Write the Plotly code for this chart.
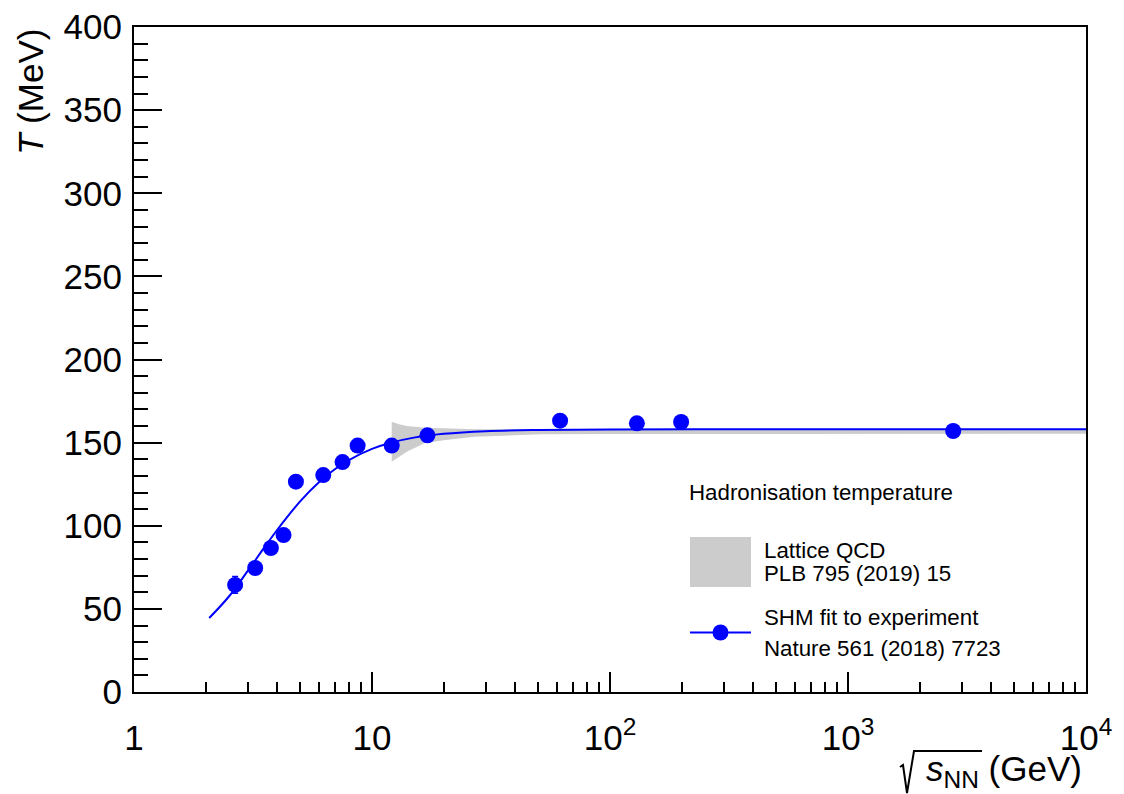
import plotly.graph_objects as go

# --- data ---
sqrt_s = [2.66, 3.23, 3.76, 4.25, 4.79, 6.24, 7.52, 8.7, 12.1, 17.1, 61.7, 129.7, 199.0, 2767.0]
temperature = [64.4, 74.6, 86.6, 94.4, 126.5, 130.5, 138.3, 148.2, 148.2, 154.4, 163.2, 161.6, 162.4, 157.0]
temperature_err = [5.0, 2.0, 2.0, 2.0, 2.0, 2.0, 2.0, 2.0, 2.0, 2.0, 3.0, 3.0, 3.0, 2.0]

fit_sqrt_s = [2.07, 2.5, 3.0, 3.5, 4.0, 5.0, 6.0, 7.0, 8.0, 10.0, 12.0, 15.0, 20.0, 30.0, 50.0, 100.0, 300.0, 1000.0, 10000.0]
fit_T = [44.5, 57.3, 72.7, 86.2, 97.6, 114.8, 126.3, 134.1, 139.5, 146.2, 149.9, 153.0, 155.3, 156.9, 157.6, 157.9, 158.0, 158.0, 158.0]

lqcd_sqrt_s = [12.1, 13.0, 14.0, 16.6, 20.0, 27.0, 51.0, 100.0, 1000.0, 10000.0]
lqcd_upper = [162.6, 161.0, 160.0, 159.0, 158.6, 158.0, 158.0, 158.0, 158.0, 158.0]
lqcd_lower = [138.5, 141.5, 144.5, 149.6, 151.5, 153.6, 155.0, 155.2, 155.3, 155.3]

x_tickvals = [1, 10, 100, 1000, 10000]
x_ticktext = ["1", "10", "10<sup>2</sup>", "10<sup>3</sup>", "10<sup>4</sup>"]
x_minor_vals = [m * d for d in (1, 10, 100, 1000) for m in range(2, 10)]

BLUE = "rgb(0,0,255)"
GRAY = "rgb(204,204,204)"
FONT = "Liberation Sans, Arial, Helvetica, sans-serif"

# plot-area geometry (pixels) used for the hand-drawn legend and title decorations
L, R, T_, B = 134, 1086, 27, 692
W, H = R - L, B - T_


def px(xp):
    return (xp - L) / W


def py(yp):
    return (B - yp) / H


fig = go.Figure()

# Lattice QCD band
fig.add_trace(go.Scatter(x=lqcd_sqrt_s, y=lqcd_upper, mode="lines", line=dict(width=0, color=GRAY),
                         showlegend=False, hoverinfo="skip"))
fig.add_trace(go.Scatter(x=lqcd_sqrt_s, y=lqcd_lower, mode="lines", line=dict(width=0, color=GRAY),
                         fill="tonexty", fillcolor=GRAY, showlegend=False, hoverinfo="skip"))

# SHM fit curve
fig.add_trace(go.Scatter(x=fit_sqrt_s, y=fit_T, mode="lines", line=dict(color=BLUE, width=2, shape="spline"),
                         showlegend=False))

# data points
fig.add_trace(go.Scatter(x=sqrt_s, y=temperature, mode="markers",
                         marker=dict(color=BLUE, size=16),
                         error_y=dict(type="data", array=temperature_err, color=BLUE, thickness=1.5, width=3),
                         showlegend=False))

fig.update_xaxes(type="log", range=[0, 4], showline=True, linecolor="black", linewidth=2, mirror=True,
                 ticks="inside", ticklen=20, tickwidth=2, tickcolor="black",
                 tickvals=x_tickvals, ticktext=x_ticktext,
                 tickfont=dict(family=FONT, size=35, color="black"),
                 minor=dict(ticks="inside", ticklen=10, tickwidth=2, tickcolor="black",
                            tickvals=x_minor_vals, showgrid=False),
                 showgrid=False, zeroline=False, ticklabelstandoff=14, automargin=False)
fig.update_yaxes(range=[0, 400], showline=True, linecolor="black", linewidth=2, mirror=True,
                 ticks="inside", ticklen=28, tickwidth=2, tickcolor="black", dtick=50, tick0=0,
                 tickfont=dict(family=FONT, size=35, color="black"),
                 minor=dict(ticks="inside", ticklen=14, tickwidth=2, tickcolor="black", dtick=10, showgrid=False),
                 showgrid=False, zeroline=False, ticklabelstandoff=3, automargin=False)

legend_font = dict(family=FONT, size=22.3, color="black")
annotations = [
    dict(text="<i>T</i> (MeV)", xref="paper", yref="paper", x=px(30), y=1.0, xanchor="center", yanchor="top",
         textangle=-90, showarrow=False, font=dict(family=FONT, size=35, color="black")),
    dict(text="<i>s</i><sub>NN</sub> (GeV)", xref="paper", yref="paper",
         x=px(1084), y=py(771), xanchor="right", yanchor="middle",
         showarrow=False, font=dict(family=FONT, size=35, color="black")),
    dict(text="Hadronisation temperature", xref="paper", yref="paper", x=px(687), y=py(492),
         xanchor="left", yanchor="middle", showarrow=False, font=legend_font),
    dict(text="Lattice QCD", xref="paper", yref="paper", x=px(762), y=py(550),
         xanchor="left", yanchor="middle", showarrow=False, font=legend_font),
    dict(text="PLB 795 (2019) 15", xref="paper", yref="paper", x=px(762), y=py(573.5),
         xanchor="left", yanchor="middle", showarrow=False, font=legend_font),
    dict(text="SHM fit to experiment", xref="paper", yref="paper", x=px(762), y=py(617),
         xanchor="left", yanchor="middle", showarrow=False, font=legend_font),
    dict(text="Nature 561 (2018) 7723", xref="paper", yref="paper", x=px(762), y=py(648),
         xanchor="left", yanchor="middle", showarrow=False, font=legend_font),
]

# radical sign for sqrt(s_NN)
rad = [(900, 767), (903, 765), (907, 793), (914, 751), (982, 751)]
rad_path = "M " + " L ".join(f"{px(a):.5f},{py(b):.5f}" for a, b in rad)

shapes = [
    dict(type="rect", xref="paper", yref="paper", x0=px(690), x1=px(751),
         y0=py(587), y1=py(537), fillcolor=GRAY, line=dict(width=0)),
    dict(type="line", xref="paper", yref="paper", x0=px(690), x1=px(751),
         y0=py(632.5), y1=py(632.5), line=dict(color=BLUE, width=2)),
    dict(type="circle", xref="paper", yref="paper",
         x0=px(720.5 - 8), x1=px(720.5 + 8), y0=py(632.5 + 8), y1=py(632.5 - 8),
         fillcolor=BLUE, line=dict(color=BLUE, width=0)),
    dict(type="path", xref="paper", yref="paper", path=rad_path, line=dict(color="black", width=2)),
]

fig.update_layout(width=1124, height=794, autosize=False,
                  margin=dict(l=L, r=1124 - R, t=T_, b=794 - B),
                  paper_bgcolor="white", plot_bgcolor="white",
                  annotations=annotations, shapes=shapes, showlegend=False,
                  font=dict(family=FONT, color="black"))

fig.write_html("out.html", config={"displayModeBar": False},
               post_script="document.body.style.margin='0';document.body.style.overflow='hidden';")
